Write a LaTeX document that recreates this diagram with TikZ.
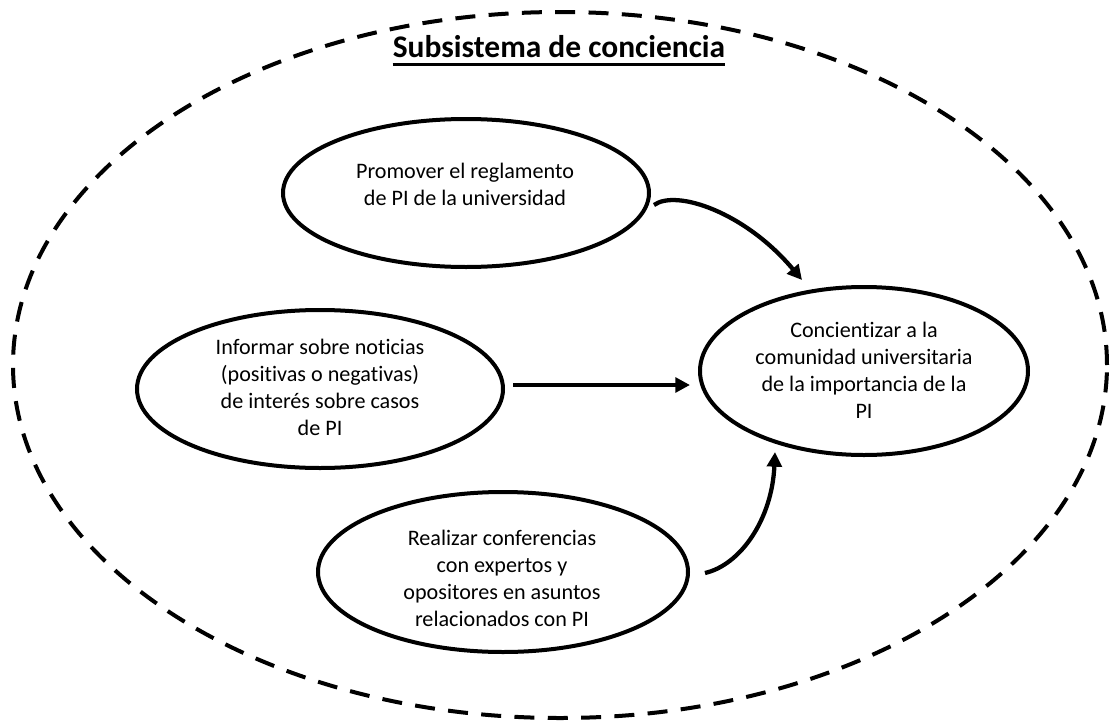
\documentclass[tikz,border=0pt]{standalone}
\usepackage{fontspec}
\setmainfont[Ligatures=NoCommon]{Carlito}
\usetikzlibrary{shapes.geometric,arrows.meta}
\begin{document}
\begin{tikzpicture}[x=0.75pt,y=-0.75pt,
  oval/.style={draw=black,ellipse,line width=3pt,inner sep=0pt},
  body/.style={align=center,inner sep=0pt,font=\fontsize{16.6}{20.25}\selectfont},
  conn/.style={line width=3.2pt,-{Triangle[length=11pt,width=11pt]}}]
\useasboundingbox (0,0) rectangle (1111,725);
% outer dashed ellipse
\node[draw=black,ellipse,line width=3pt,dash pattern=on 15pt off 10pt,inner sep=0pt,
  minimum width=1094*0.75pt,minimum height=706*0.75pt] (outer) at (560,365) {};
% title
\node[inner sep=0pt,font=\fontsize{23.6}{28}\selectfont\bfseries] (title) at (559,47) {Subsistema de conciencia};
\draw[line width=2.2pt] ([yshift=-5pt]title.base west) -- ([yshift=-5pt]title.base east);
% ellipses
\node[oval,minimum width=366*0.75pt,minimum height=148*0.75pt] (e1) at (466,193) {};
\node[oval,minimum width=366*0.75pt,minimum height=158*0.75pt] (e2) at (320,389) {};
\node[oval,minimum width=328*0.75pt,minimum height=168*0.75pt] (e3) at (864,371) {};
\node[oval,minimum width=370*0.75pt,minimum height=160*0.75pt] (e4) at (503,572) {};
% texts
\node[body] (t1) at (465,184) {Promover el reglamento\\de PI de la universidad};
\node[body] (t2) at (320,387) {Informar sobre noticias\\(positivas o negativas)\\de interés sobre casos\\de PI};
\node[body] (t3) at (864,370) {Concientizar a la\\comunidad universitaria\\de la importancia de la\\PI};
\node[body] (t4) at (502,578) {Realizar conferencias\\con expertos  y\\opositores en asuntos\\relacionados con PI};
% connector ends
\coordinate (a1s) at (654,205);
\coordinate (a1e) at (802,280);
\coordinate (a2s) at (513,385);
\coordinate (a2e) at (690,385);
\coordinate (a3s) at (705,573);
\coordinate (a3e) at (775,452);
\draw[conn] (a1s) .. controls (676,189) and (745,212) .. (a1e);
\draw[conn] (a2s) -- (a2e);
\draw[conn] (a3s) .. controls (740,565) and (772,520) .. (a3e);
\end{tikzpicture}
\end{document}
